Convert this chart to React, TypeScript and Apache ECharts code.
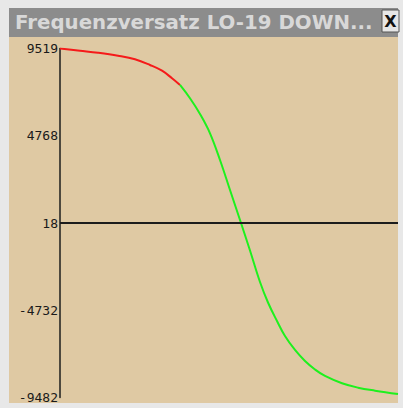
import React, { useEffect, useRef } from "react";
import * as echarts from "echarts";

const titleText = "Frequenzversatz LO-19 DOWN...";
const closeText = "X";
const yTickValues = [9519, 4768, 18, -4732, -9482];
const yMin = -9482;
const yMax = 9519;
const zeroLineValue = 18;
const xMax = 338;

const redX = [0, 20, 38, 58, 75, 90, 102, 112, 120];
const redY = [9519, 9399, 9290, 9127, 8931, 8621, 8310, 7897, 7532];
const greenX = [120, 130, 140, 150, 160, 170, 181, 190, 200, 208, 217, 225, 235, 245, 255, 265, 282, 298, 315, 338];
const greenY = [7532, 6808, 5953, 4902, 3449, 1816, 18, -1478, -3193, -4309, -5316, -6133, -6895, -7494, -7956, -8310, -8708, -8947, -9110, -9290];

const zip = (xs: number[], ys: number[]) => xs.map((x, i) => [x, ys[i]]);

export default function App() {
  const ref = useRef<HTMLDivElement>(null);
  useEffect(() => {
    if (!ref.current) return;
    const chart = echarts.init(ref.current, undefined, { renderer: "svg" });
    chart.setOption({
      animation: false,
      backgroundColor: "#e8e8e8",
      graphic: [
        { type: "rect", z: 0, shape: { x: 9, y: 8, width: 389, height: 395 }, style: { fill: "#dfc9a3" } },
        { type: "rect", z: 0, shape: { x: 9, y: 8, width: 389, height: 29 }, style: { fill: "#8c8c8c" } },
        {
          type: "text",
          z: 1,
          x: 15,
          y: 22,
          style: {
            text: titleText,
            fill: "#d8d8d8",
            font: "bold 19.8px 'DejaVu Sans'",
            verticalAlign: "middle",
            align: "left",
          },
        },
        {
          type: "rect",
          z: 1,
          shape: { x: 382, y: 10, width: 17, height: 22 },
          style: { fill: "#e6e6e6", stroke: "#555555", lineWidth: 1 },
        },
        {
          type: "text",
          z: 2,
          x: 390.5,
          y: 21,
          style: {
            text: closeText,
            fill: "#111111",
            font: "bold 16px 'DejaVu Sans'",
            verticalAlign: "middle",
            align: "center",
          },
        },
      ],
      grid: { left: 60, right: 5, top: 48.5, bottom: 10.5, containLabel: false },
      xAxis: { type: "value", min: 0, max: xMax, show: false },
      yAxis: {
        type: "value",
        min: yMin,
        max: yMax,
        axisLine: { show: true, onZero: false, lineStyle: { color: "#1c1c1c", width: 1.5 } },
        axisTick: { show: false },
        splitLine: { show: false },
        axisLabel: {
          customValues: yTickValues,
          formatter: (v: number) => String(Math.round(v)),
          fontFamily: "DejaVu Sans Mono",
          fontSize: 13,
          color: "#1a1a1a",
          margin: 2,
          showMinLabel: true,
          showMaxLabel: true,
        },
      },
      series: [
        {
          type: "line",
          data: zip(redX, redY),
          showSymbol: false,
          smooth: 0.4,
          lineStyle: { color: "#f51a1a", width: 2 },
        },
        {
          type: "line",
          data: zip(greenX, greenY),
          showSymbol: false,
          smooth: 0.4,
          lineStyle: { color: "#1ef01e", width: 2 },
          markLine: {
            silent: true,
            symbol: "none",
            label: { show: false },
            lineStyle: { color: "#1c1c1c", width: 2, type: "solid" },
            data: [{ yAxis: zeroLineValue }],
          },
        },
      ],
    });
    return () => chart.dispose();
  }, []);
  return (
    <div
      ref={ref}
      style={{ position: "absolute", left: 0, top: 0, width: 403, height: 408 }}
    />
  );
}
